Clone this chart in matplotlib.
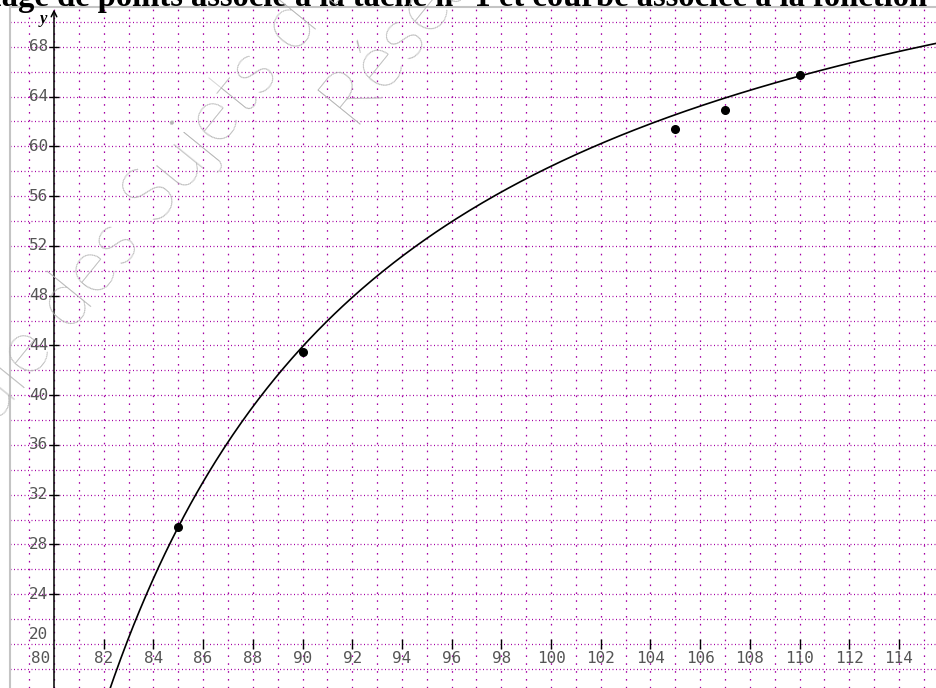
import numpy as np
import matplotlib.pyplot as plt

# nuage de points (tâche n°1)
x_pts = [85, 90, 105, 107, 110]
y_pts = [29.4, 43.5, 61.4, 62.9, 65.7]

# courbe de f(x) = a - b / (x - c), coefficients
a, b, c = 87.4, 870, 70

x_ticks = list(range(80, 115, 2))
y_ticks = list(range(20, 69, 4))

W, H = 937, 688
fig = plt.figure(figsize=(W / 100, H / 100), dpi=100)
ax = fig.add_axes([10 / W, 0, (W - 10) / W, (H - 7) / H])
ax.set_xlim(78.23, 115.53)
ax.set_ylim(16.46, 71.2)

# quadrillage pointillé violet
ax.set_xticks(np.arange(79, 116, 1))
ax.set_yticks(np.arange(18, 71, 2))
ax.tick_params(length=0, labelbottom=False, labelleft=False)
ax.grid(axis='x', color='#a400a4', lw=0.9, ls=(0, (1.3, 5)))
ax.grid(axis='y', color='#a400a4', lw=0.9, ls=(0, (0.8, 2.0)))
ax.set_axisbelow(True)

# cadre gris
for s in ['right', 'bottom']:
    ax.spines[s].set_visible(False)
for s in ['left', 'top']:
    ax.spines[s].set_color('#c4c4c4')
    ax.spines[s].set_linewidth(1.5)

# axes du repère
ax.annotate('', xy=(80, 71.0), xytext=(80, 16.3),
            arrowprops=dict(arrowstyle='->', lw=1.1, color='k', shrinkA=0, shrinkB=0))
ax.annotate('', xy=(115.6, 20), xytext=(78.2, 20),
            arrowprops=dict(arrowstyle='->', lw=1.1, color='k', shrinkA=0, shrinkB=0))
ax.plot(x_ticks[1:], [20] * len(x_ticks[1:]), ls='none', marker='|', ms=7, mew=1, color='k')
ax.plot([80] * len(y_ticks[1:]), y_ticks[1:], ls='none', marker='_', ms=7.5, mew=1, color='k')

# graduations
lab = dict(fontfamily='DejaVu Sans Mono', fontsize=11.5, color='#555555')
for xv in x_ticks:
    xp = xv - 0.52 if xv == 80 else xv
    ax.text(xp, 18.85, str(xv), ha='center', va='center', **lab)
for yv in y_ticks:
    yp = yv + 0.75 if yv == 20 else yv
    ax.text(79.76, yp, str(yv), ha='right', va='center', **lab)
ax.text(79.56, 70.2, 'y', fontfamily='Liberation Serif', fontweight='bold',
        fontstyle='italic', fontsize=12, ha='center', va='center')
ax.text(115.5, 19.6, 'x', fontfamily='Liberation Serif', fontweight='bold',
        fontstyle='italic', fontsize=12, ha='left', va='top')

# courbe et points
xs = np.linspace(82.0, 116, 400)
ax.plot(xs, a - b / (xs - c), color='k', lw=1.2)
ax.plot(x_pts, y_pts, 'o', color='k', ms=5.5)

# titre coupé en haut de la page
fig.text(-40 / W, 682 / H, "Nuage de points associé à la tâche n° 1 et courbe associée à la fonction f",
         fontfamily='Liberation Serif', fontweight='bold', fontsize=23.5, ha='left', va='baseline')

# filigrane
wm = dict(fontfamily='Lato', fontweight='light', fontsize=56, color='#b4b4b4',
          rotation=51, rotation_mode='anchor', va='baseline', zorder=10)
fig.text(70 / W, 355 / H, "Base Nationale ", ha='right', **wm)
fig.text(70 / W, 355 / H, "des Sujets d'Examens de l'enseignement professionnel", ha='left', **wm)
fig.text(356 / W, 556 / H, "Réseau SCEREN", ha='left', **wm)

fig.savefig('out.png', dpi=100)
